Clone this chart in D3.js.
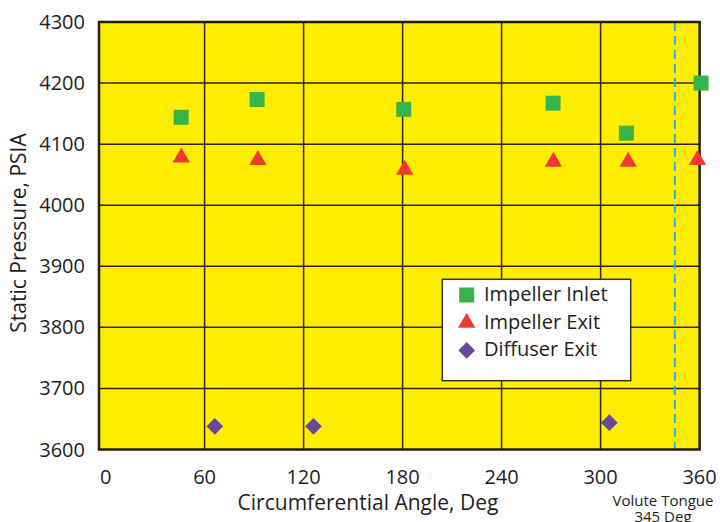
<!DOCTYPE html>
<html>
<head>
<meta charset="utf-8">
<script src="https://cdn.jsdelivr.net/npm/d3@7"></script>
<style>
  body { margin: 0; background: #fff; }
  text { font-family: "Open Sans", sans-serif; fill: #1e1e1e; }
</style>
</head>
<body>
<div id="chart"></div>
<script>
const width = 720;
const height = 522;

// data
const inletAngle = [45.8, 91.8, 180.7, 271.2, 315.6, 360.9];
const inletPsia = [4144, 4173, 4157, 4167, 4118, 4200];
const exitAngle = [45.9, 92.3, 181.3, 271.4, 316.7, 358.7];
const exitPsia = [4078, 4074, 4058, 4071, 4071, 4074];
const diffAngle = [66.2, 126, 305.3];
const diffPsia = [3638, 3638, 3644];
const xTicks = [0, 60, 120, 180, 240, 300, 360];
const yTicks = [3600, 3700, 3800, 3900, 4000, 4100, 4200, 4300];
const voluteAngle = 345;

const series = [
    { name: "Impeller Inlet", x: inletAngle, y: inletPsia, color: "#36b44b", shape: "square" },
    { name: "Impeller Exit", x: exitAngle, y: exitPsia, color: "#ee3a33", shape: "triangle" },
    { name: "Diffuser Exit", x: diffAngle, y: diffPsia, color: "#6a489d", shape: "diamond" }
];

const margin = { left: 99, right: 20, top: 22, bottom: 72.5 };

const x = d3.scaleLinear().domain([-4, 360]).range([margin.left, 699.6]);
const y = d3.scaleLinear().domain([3600, 4300]).range([449.5, margin.top]);

const svg = d3.select("#chart").append("svg")
    .attr("width", width)
    .attr("height", height);

// plot background
svg.append("rect")
    .attr("x", x(-4)).attr("y", y(4300))
    .attr("width", x(360) - x(-4))
    .attr("height", y(3600) - y(4300))
    .attr("fill", "#ffed00");

// grid
svg.append("g").selectAll("line")
    .data(yTicks.slice(1, -1))
    .enter().append("line")
    .attr("x1", x(-4)).attr("x2", x(360))
    .attr("y1", d => y(d)).attr("y2", d => y(d))
    .attr("stroke", "#2a2714").attr("stroke-width", 1.5);

svg.append("g").selectAll("line")
    .data(xTicks.slice(1, -1))
    .enter().append("line")
    .attr("x1", d => x(d)).attr("x2", d => x(d))
    .attr("y1", y(4300)).attr("y2", y(3600))
    .attr("stroke", "#2a2714").attr("stroke-width", 1.5);

// volute tongue
svg.append("line")
    .attr("x1", x(voluteAngle)).attr("x2", x(voluteAngle))
    .attr("y1", y(4300)).attr("y2", y(3600))
    .attr("stroke", "#1fb0e6").attr("stroke-width", 2)
    .attr("stroke-dasharray", "9,5");

// frame
svg.append("rect")
    .attr("x", x(-4)).attr("y", y(4300))
    .attr("width", x(360) - x(-4))
    .attr("height", y(3600) - y(4300))
    .attr("fill", "none")
    .attr("stroke", "#231f0c").attr("stroke-width", 2.5);

// axis labels
svg.append("g").selectAll("text")
    .data(yTicks)
    .enter().append("text")
    .attr("x", 85).attr("y", d => y(d) + 7)
    .attr("text-anchor", "end")
    .attr("font-size", 20)
    .text(d => d);

svg.append("g").selectAll("text")
    .data(xTicks)
    .enter().append("text")
    .attr("x", d => x(d)).attr("y", 484)
    .attr("text-anchor", "middle")
    .attr("font-size", 20)
    .text(d => d);

svg.append("text")
    .attr("x", 368).attr("y", 510)
    .attr("text-anchor", "middle")
    .attr("font-size", 21)
    .text("Circumferential Angle, Deg");

svg.append("text")
    .attr("transform", "translate(26,233) rotate(-90)")
    .attr("text-anchor", "middle")
    .attr("font-size", 21)
    .text("Static Pressure, PSIA");

svg.append("text")
    .attr("x", 663).attr("y", 506)
    .attr("text-anchor", "middle")
    .attr("font-size", 15)
    .text("Volute Tongue");
svg.append("text")
    .attr("x", 663).attr("y", 521.5)
    .attr("text-anchor", "middle")
    .attr("font-size", 15)
    .text("345 Deg");

function symbolPath(shape) {
    if (shape === "square") return d3.symbol(d3.symbolSquare, 225)();
    if (shape === "triangle") return d3.symbol(d3.symbolTriangle, 130)();
    return d3.symbol(d3.symbolSquare, 140)();
}

// points
series.forEach(s => {
    svg.append("g").selectAll("path")
        .data(s.x.map((a, i) => [a, s.y[i]]))
        .enter().append("path")
        .attr("d", symbolPath(s.shape))
        .attr("transform", d => `translate(${x(d[0])},${y(d[1])})` + (s.shape === "diamond" ? " rotate(45)" : ""))
        .attr("fill", s.color);
});

// legend
const legend = svg.append("g");
legend.append("rect")
    .attr("x", 442.3).attr("y", 279.3)
    .attr("width", 188.4).attr("height", 101.4)
    .attr("fill", "#fff")
    .attr("stroke", "#333").attr("stroke-width", 1.5);

series.forEach((s, i) => {
    const cy = 295 + i * 27.7;
    legend.append("path")
        .attr("d", symbolPath(s.shape))
        .attr("transform", `translate(466.7,${cy})` + (s.shape === "diamond" ? " rotate(45)" : ""))
        .attr("fill", s.color);
    legend.append("text")
        .attr("x", 484).attr("y", cy + 6)
        .attr("font-size", 20)
        .text(s.name);
});
</script>
</body>
</html>
